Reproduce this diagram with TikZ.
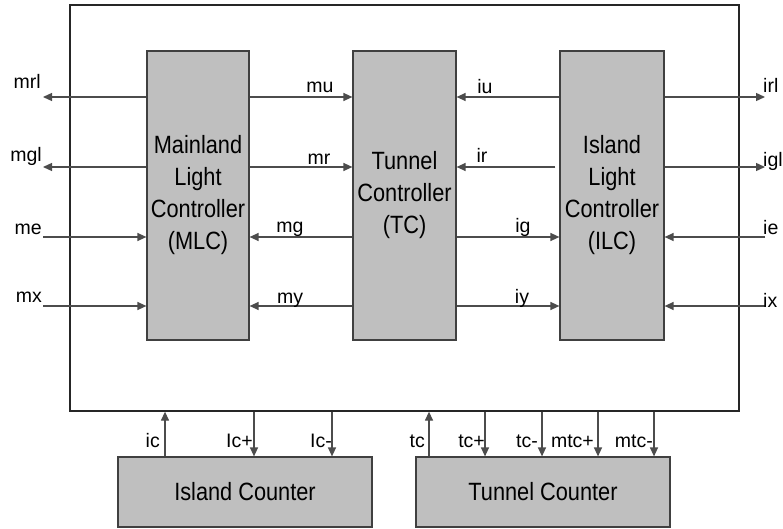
\documentclass[tikz,border=0pt]{standalone}
\usepackage{fontspec}
\setmainfont{Liberation Sans}
\newfontfamily\boxfont[FakeStretch=0.87]{Liberation Sans}
\usetikzlibrary{arrows.meta}

\begin{document}
\begin{tikzpicture}[x=1pt,y=-1pt,>={Triangle[length=9pt,width=8pt]},
    block/.style={draw=black!75,line width=1.2pt,fill=black!25,inner sep=0pt,
                  align=center,font=\boxfont\fontsize{25}{32}\selectfont},
    sig/.style={->,black!70,line width=1.3pt},
    lbl/.style={inner sep=0pt,font=\fontsize{19.5}{22}\selectfont}]
  \useasboundingbox (0,0) rectangle (783,529);

  % ---- outer frame and the blocks -----------------------------------------
  \node[draw=black!85,line width=1.3pt,inner sep=0pt,
        minimum width=669pt,minimum height=406pt] (frame) at (404.5,208) {};
  \node[block,minimum width=102pt,minimum height=289pt] (mlc) at (198,195.5)
        {Mainland\\Light\\Controller\\(MLC)};
  \node[block,minimum width=103pt,minimum height=289pt] (tc) at (404.5,195.5)
        {Tunnel\\Controller\\(TC)};
  \node[block,minimum width=104pt,minimum height=289pt] (ilc) at (612,195.5)
        {Island\\Light\\Controller\\(ILC)};
  \node[block,minimum width=254pt,minimum height=70pt] (icnt) at (245,492) {Island Counter};
  \node[block,minimum width=254pt,minimum height=70pt] (tcnt) at (543,492) {Tunnel Counter};

  % signal rows and the free ends outside the frame
  \coordinate (r1) at (0,97);  \coordinate (r2) at (0,167);
  \coordinate (r3) at (0,237); \coordinate (r4) at (0,306);
  \coordinate (lft) at (43,0); \coordinate (rgt) at (765,0);

  % ---- mainland side ------------------------------------------------------
  \draw[sig] (mlc.west |- r1) -- (lft |- r1);
  \draw[sig] (mlc.west |- r2) -- (lft |- r2);
  \draw[sig] (lft |- r3) -- (mlc.west |- r3);
  \draw[sig] (lft |- r4) -- (mlc.west |- r4);
  \node[lbl,anchor=base east] (lmrl) at (41,89)  {mrl};
  \node[lbl,anchor=base east] (lmgl) at (42,162) {mgl};
  \node[lbl,anchor=base east] (lme)  at (42,234) {me};
  \node[lbl,anchor=base east] (lmx)  at (42,302) {mx};

  % ---- MLC <-> TC ---------------------------------------------------------
  \draw[sig] (mlc.east |- r1) -- (tc.west |- r1);
  \draw[sig] (mlc.east |- r2) -- (tc.west |- r2);
  \draw[sig] (tc.west |- r3) -- (mlc.east |- r3);
  \draw[sig] (tc.west |- r4) -- (mlc.east |- r4);
  \node[lbl,anchor=base] (lmu) at (320,93)  {mu};
  \node[lbl,anchor=base] (lmr) at (319,165) {mr};
  \node[lbl,anchor=base] (lmg) at (290,233) {mg};
  \node[lbl,anchor=base] (lmy) at (290,303) {my};

  % ---- TC <-> ILC ---------------------------------------------------------
  \draw[sig] (ilc.west |- r1) -- (tc.east |- r1);
  \draw[sig,shorten <=4pt] (ilc.west |- r2) -- (tc.east |- r2);
  \draw[sig] (tc.east |- r3) -- (ilc.west |- r3);
  \draw[sig] (tc.east |- r4) -- (ilc.west |- r4);
  \node[lbl,anchor=base] (liu) at (485,94)  {iu};
  \node[lbl,anchor=base] (lir) at (482,163) {ir};
  \node[lbl,anchor=base] (lig) at (523,233) {ig};
  \node[lbl,anchor=base] (liy) at (522,303) {iy};

  % ---- island side --------------------------------------------------------
  \draw[sig] (ilc.east |- r1) -- (rgt |- r1);
  \draw[sig] (ilc.east |- r2) -- (rgt |- r2);
  \draw[sig] (rgt |- r3) -- (ilc.east |- r3);
  \draw[sig] (rgt |- r4) -- (ilc.east |- r4);
  \node[lbl,anchor=base west] (lirl) at (763,93)  {irl};
  \node[lbl,anchor=base west] (ligl) at (763,167) {igl};
  \node[lbl,anchor=base west] (lie)  at (763,234) {ie};
  \node[lbl,anchor=base west] (lix)  at (763,307) {ix};

  % ---- counters -----------------------------------------------------------
  \coordinate (xic) at (165,0);  \coordinate (xicp) at (254,0);  \coordinate (xicm) at (332,0);
  \coordinate (xtc) at (429,0);  \coordinate (xtcp) at (485,0);  \coordinate (xtcm) at (542,0);
  \coordinate (xmtcp) at (598,0); \coordinate (xmtcm) at (654,0);
  \draw[sig] (icnt.north -| xic) -- (frame.south -| xic);
  \draw[sig] (frame.south -| xicp) -- (icnt.north -| xicp);
  \draw[sig] (frame.south -| xicm) -- (icnt.north -| xicm);
  \draw[sig] (tcnt.north -| xtc) -- (frame.south -| xtc);
  \draw[sig] (frame.south -| xtcp) -- (tcnt.north -| xtcp);
  \draw[sig] (frame.south -| xtcm) -- (tcnt.north -| xtcm);
  \draw[sig] (frame.south -| xmtcp) -- (tcnt.north -| xmtcp);
  \draw[sig] (frame.south -| xmtcm) -- (tcnt.north -| xmtcm);
  \node[lbl,anchor=base east] (lic)   at (160,447) {ic};
  \node[lbl,anchor=base east] (licp)  at (253,447) {Ic+};
  \node[lbl,anchor=base east] (licm)  at (332,447) {Ic-};
  \node[lbl,anchor=base east] (ltc)   at (425,447) {tc};
  \node[lbl,anchor=base east] (ltcp)  at (485,447) {tc+};
  \node[lbl,anchor=base east] (ltcm)  at (538,447) {tc-};
  \node[lbl,anchor=base east] (lmtcp) at (594,447) {mtc+};
  \node[lbl,anchor=base east] (lmtcm) at (653,447) {mtc-};
\end{tikzpicture}
\end{document}
